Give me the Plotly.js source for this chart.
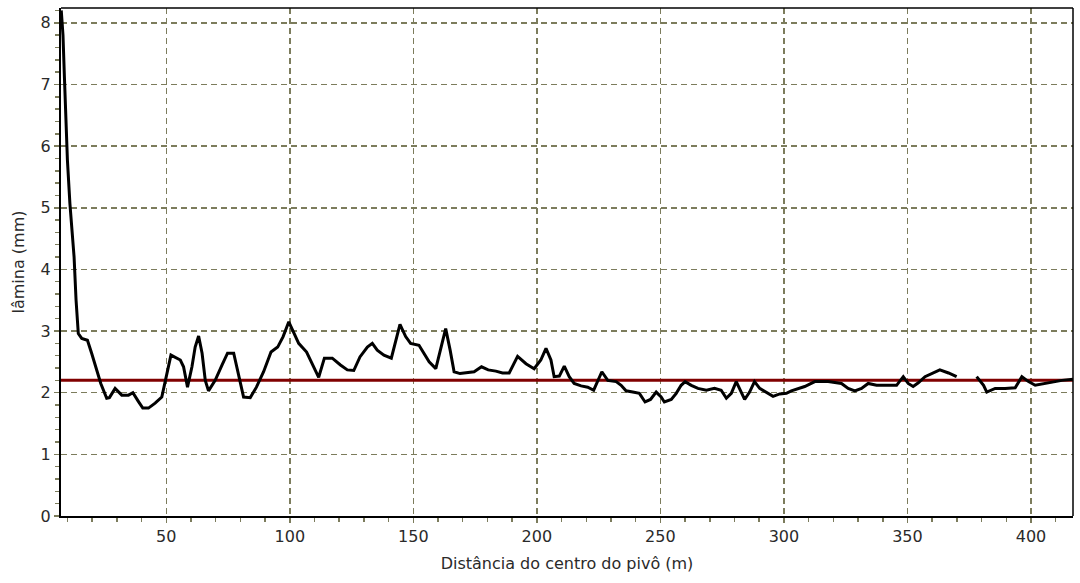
<!DOCTYPE html>
<html>
<head>
<meta charset="utf-8">
<script src="https://cdn.plot.ly/plotly-3.0.1.min.js"></script>
<style>html,body{margin:0;padding:0;background:#fff;}#chart{width:1080px;height:583px;}</style>
</head>
<body>
<div id="chart"></div>
<script>
// Distância do centro do pivô (m)
const distancia = [7.5, 8.2, 8.8, 9.3, 10.0, 11.0, 11.9, 12.7, 13.5, 14.4, 15.8, 18.1, 19.8, 21.9, 23.5, 25.9, 27.0, 29.3, 32.0, 34.7, 36.5, 38.7, 40.5, 42.8, 45.5, 48.2, 49.6, 51.9,
  55.7, 57.0, 58.6, 60.4, 61.7, 63.1, 64.5, 65.8, 67.1, 69.8, 72.6, 74.8, 77.3, 79.7, 81.3, 84.0, 86.5, 89.4, 92.4, 95.1, 97.3, 99.6,
  101.6, 103.6, 106.8, 109.1, 111.7, 114.0, 117.2, 120.5, 123.3, 125.9, 128.4, 131.4, 133.4, 135.4, 138.1, 141.1, 142.8, 144.6, 146.9, 148.9,
  152.3, 154.3, 156.4, 159.1, 161.4, 163.1, 164.9, 166.5, 168.9, 171.9, 174.6, 177.6, 180.3, 183.4, 186.1, 188.8, 192.2, 195.6, 198.9,
  201.6, 203.7, 205.7, 207.0, 209.1, 211.1, 213.1, 215.1, 217.9, 220.6, 223.0, 226.3, 228.7, 232.1, 234.1, 236.1, 238.8, 241.5, 243.8, 246.0, 248.3,
  250.3, 251.6, 254.4, 256.4, 258.4, 260.0, 262.5, 265.2, 268.6, 271.9, 274.6, 276.7, 278.7, 280.7, 282.5, 284.1, 286.1, 288.1, 290.2, 292.9, 295.6, 298.3,
  301.0, 303.0, 305.7, 308.4, 312.5, 317.9, 323.3, 326.0, 328.7, 331.4, 334.1, 337.5, 341.5, 345.6, 348.3,
  350.3, 352.3, 354.4, 357.1, 359.8, 363.1, 366.6, 369.9, 372.0, 378.0, 380.8, 382.1, 385.5, 389.5, 393.6, 396.3, 399.0,
  401.7, 404.4, 408.5, 412.5, 417.0];
// lâmina (mm)
const lamina = [8.2, 7.8, 7.1, 6.42, 5.77, 5.07, 4.52, 4.2, 3.5, 2.96, 2.88, 2.85, 2.64, 2.37, 2.15, 1.91, 1.92, 2.07, 1.96, 1.96, 2.0, 1.86, 1.75, 1.75, 1.83, 1.93, 2.2, 2.61,
  2.53, 2.42, 2.09, 2.42, 2.74, 2.92, 2.64, 2.2, 2.03, 2.2, 2.45, 2.64, 2.64, 2.2, 1.93, 1.92, 2.09, 2.34, 2.66, 2.74, 2.91, 3.15,
  2.96, 2.8, 2.66, 2.48, 2.25, 2.56, 2.56, 2.45, 2.37, 2.36, 2.58, 2.74, 2.8, 2.69, 2.61, 2.56, 2.85, 3.11, 2.91, 2.8,
  2.77, 2.64, 2.5, 2.39, 2.74, 3.04, 2.69, 2.34, 2.31, 2.32, 2.34, 2.42, 2.37, 2.35, 2.32, 2.32, 2.59, 2.47, 2.39,
  2.53, 2.72, 2.53, 2.26, 2.27, 2.43, 2.26, 2.15, 2.11, 2.09, 2.04, 2.34, 2.2, 2.18, 2.12, 2.03, 2.01, 1.99, 1.85, 1.89, 2.01,
  1.93, 1.85, 1.89, 1.99, 2.12, 2.18, 2.12, 2.07, 2.04, 2.07, 2.04, 1.91, 1.99, 2.18, 2.04, 1.89, 2.01, 2.18, 2.07, 2.01, 1.94, 1.98,
  1.99, 2.03, 2.07, 2.10, 2.18, 2.18, 2.15, 2.07, 2.03, 2.07, 2.15, 2.12, 2.12, 2.12, 2.26,
  2.15, 2.10, 2.16, 2.26, 2.31, 2.37, 2.32, 2.26, null, 2.26, 2.12, 2.01, 2.07, 2.07, 2.08, 2.26, 2.18,
  2.12, 2.14, 2.18, 2.2, 2.22];
// lâmina média (mm)
const mediaX = [7.4, 417];
const mediaY = [2.2, 2.2];

const xTickVals = [50, 100, 150, 200, 250, 300, 350, 400];
const yTickVals = [0, 1, 2, 3, 4, 5, 6, 7, 8];

const gridColor = '#7c7c5c';
const fontFam = '"DejaVu Sans", Verdana, sans-serif';

const traces = [
  {x: mediaX, y: mediaY, type: 'scatter', mode: 'lines', line: {color: '#800000', width: 3}, hoverinfo: 'skip'},
  {x: distancia, y: lamina, type: 'scatter', mode: 'lines', line: {color: '#000000', width: 3}, connectgaps: false}
];

const layout = {
  width: 1080, height: 583,
  margin: {l: 61, r: 7, t: 8, b: 67},
  paper_bgcolor: '#ffffff', plot_bgcolor: '#ffffff',
  showlegend: false,
  font: {family: fontFam, size: 16, color: '#2a2a2a'},
  xaxis: {
    range: [7.4, 417], tickvals: xTickVals, ticktext: xTickVals.map(String),
    showgrid: true, gridcolor: gridColor, griddash: '6px,4px', gridwidth: 1.5,
    zeroline: false, showline: true, linecolor: '#000', linewidth: 2,
    ticks: 'outside', ticklen: 5, tickcolor: gridColor, tickwidth: 1.5,
    minor: {dtick: 10, tick0: 0, ticks: 'outside', ticklen: 4, tickcolor: gridColor, tickwidth: 1.5, showgrid: false},
    tickfont: {size: 16},
    title: {text: 'Distância do centro do pivô (m)', font: {size: 16}, standoff: 13}
  },
  yaxis: {
    range: [0, 8.24], tickvals: yTickVals, ticktext: yTickVals.map(String),
    showgrid: true, gridcolor: gridColor, griddash: '6px,4px', gridwidth: 1.5,
    zeroline: false, showline: true, linecolor: '#000', linewidth: 2,
    ticks: 'outside', ticklen: 5, tickcolor: gridColor, tickwidth: 1.5,
    minor: {dtick: 0.2, tick0: 0, ticks: 'outside', ticklen: 4, tickcolor: gridColor, tickwidth: 1.5, showgrid: false},
    tickfont: {size: 16},
    title: {text: 'lâmina (mm)', font: {size: 16}, standoff: 12}
  },
  shapes: [
    {type: 'line', xref: 'paper', yref: 'paper', x0: 0, x1: 1, y0: 1, y1: 1, line: {color: '#000', width: 1.5}},
    {type: 'line', xref: 'paper', yref: 'paper', x0: 1, x1: 1, y0: 0, y1: 1, line: {color: '#000', width: 1.5}}
  ]
};

Plotly.newPlot('chart', traces, layout, {displayModeBar: false, staticPlot: true});
</script>
</body>
</html>
